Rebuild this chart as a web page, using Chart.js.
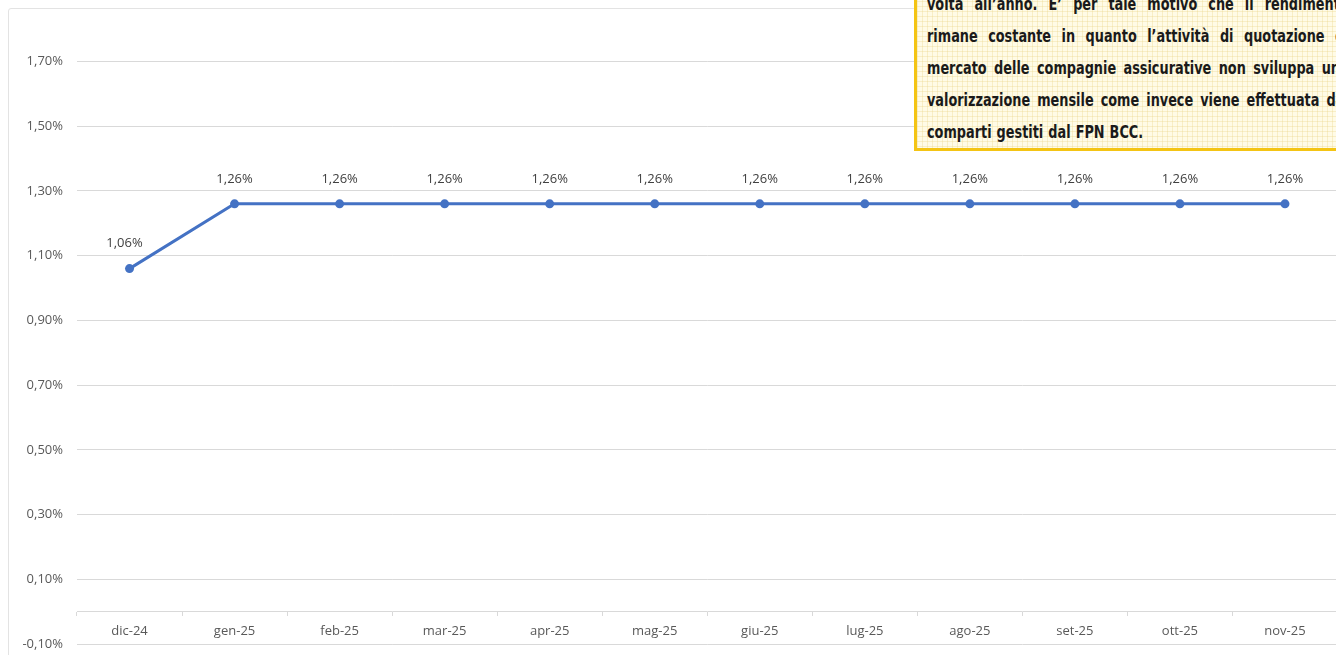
<!DOCTYPE html>
<html lang="it">
<head>
    <meta charset="UTF-8">
    <title>Rendimento mensile</title>
    <style>
        html, body {
            margin: 0;
            padding: 0;
            background: #ffffff;
            overflow: hidden;
            width: 1336px;
            height: 655px;
        }

        /* cornice esterna del grafico */
        .frame {
            position: absolute;
            left: 8px;
            top: 8px;
            width: 1400px;
            height: 700px;
            border: 1px solid #e3e3e3;
            border-radius: 3px;
        }

        /* il grafico è più grande della finestra: la parte in basso e a destra viene tagliata */
        .chart-box {
            position: absolute;
            left: 0;
            top: 0;
            width: 1342px;
            height: 666px;
        }

        /* riquadro giallo con la nota */
        .note {
            position: absolute;
            left: 914px;
            top: -22px;
            width: 450px;
            padding: 7px 0 0 10px;
            border: 3px solid #f4c414;
            background-color: #fffbe6;
            background-image:
                linear-gradient(to right, rgba(235, 215, 140, 0.35) 1px, transparent 1px),
                linear-gradient(to bottom, rgba(235, 215, 140, 0.35) 1px, transparent 1px);
            background-size: 5px 5px;
            font-family: "Liberation Sans Narrow", "DejaVu Sans Condensed", "Roboto", sans-serif;
            font-stretch: condensed;
            font-weight: bold;
            font-size: 17px;
            color: #1a1a1a;
        }

        .note .righe {
            transform: scaleX(0.84);
            transform-origin: left top;
        }

        .note .row {
            display: flex;
            justify-content: space-between;
            width: 502px;
            height: 32px;
            line-height: 32px;
            white-space: nowrap;
        }

        .note .row.last {
            justify-content: flex-start;
            gap: 6px;
        }
    </style>
</head>
<body>

<div class="frame"></div>

<div class="chart-box">
    <canvas id="rendChart"></canvas>
</div>

<div class="note">
    <div class="righe">
        <div class="row"><span>volta</span><span>all’anno.</span><span>E’</span><span>per</span><span>tale</span><span>motivo</span><span>che</span><span>il</span><span>rendimento</span></div>
        <div class="row"><span>rimane</span><span>costante</span><span>in</span><span>quanto</span><span>l’attività</span><span>di</span><span>quotazione</span><span>di</span></div>
        <div class="row"><span>mercato</span><span>delle</span><span>compagnie</span><span>assicurative</span><span>non</span><span>sviluppa</span><span>una</span></div>
        <div class="row"><span>valorizzazione</span><span>mensile</span><span>come</span><span>invece</span><span>viene</span><span>effettuata</span><span>dai</span></div>
        <div class="row last"><span>comparti</span><span>gestiti</span><span>dal</span><span>FPN</span><span>BCC.</span></div>
    </div>
</div>

<script src="https://cdn.jsdelivr.net/npm/chart.js"></script>

<script>
    // Dati
    const mesi = ['dic-24', 'gen-25', 'feb-25', 'mar-25', 'apr-25', 'mag-25', 'giu-25', 'lug-25', 'ago-25', 'set-25', 'ott-25', 'nov-25'];
    const rendimento = [1.06, 1.26, 1.26, 1.26, 1.26, 1.26, 1.26, 1.26, 1.26, 1.26, 1.26, 1.26];
    const tickY = [-0.10, 0.10, 0.30, 0.50, 0.70, 0.90, 1.10, 1.30, 1.50, 1.70];

    const grigio = '#d9d9d9';
    const testo = '#595959';
    const blu = '#4472c4';

    // formato italiano: 1,26%
    function perc(v) {
        return v.toFixed(2).replace('.', ',') + '%';
    }

    // etichette sopra i punti
    const etichette = {
        id: 'etichette',
        afterDatasetsDraw(chart) {
            const ctx = chart.ctx;
            const meta = chart.getDatasetMeta(0);
            ctx.save();
            ctx.font = '13px "Open Sans", sans-serif';
            ctx.fillStyle = '#404040';
            ctx.textAlign = 'center';
            ctx.textBaseline = 'middle';
            meta.data.forEach((pt, i) => {
                const dx = i === 0 ? -5 : 0;
                ctx.fillText(perc(rendimento[i]), pt.x + dx, pt.y - 25);
            });
            ctx.restore();
        }
    };

    const ctx = document.getElementById('rendChart').getContext('2d');
    const rendChart = new Chart(ctx, {
        type: 'line',
        data: {
            labels: mesi,
            datasets: [{
                data: rendimento,
                borderColor: blu,
                backgroundColor: blu,
                borderWidth: 3,
                pointRadius: 4.5,
                pointBorderWidth: 0,
                pointBackgroundColor: blu,
                tension: 0
            }]
        },
        options: {
            responsive: true,
            maintainAspectRatio: false,
            animation: false,
            layout: {
                padding: { top: 29, bottom: 1, left: 0, right: 0 }
            },
            plugins: {
                legend: { display: false },
                tooltip: { enabled: false }
            },
            scales: {
                x: {
                    position: { y: 0 },
                    offset: true,
                    afterFit: s => { s.height = 0; },
                    border: { display: true, color: grigio, width: 1 },
                    grid: {
                        offset: true,
                        drawOnChartArea: false,
                        drawTicks: true,
                        tickLength: 4,
                        color: grigio
                    },
                    ticks: {
                        color: testo,
                        font: { family: '"Open Sans", sans-serif', size: 13 },
                        padding: 8,
                        maxRotation: 0
                    }
                },
                y: {
                    min: -0.10,
                    max: 1.80,
                    afterFit: s => { s.width = 77; },
                    afterBuildTicks: s => { s.ticks = tickY.map(v => ({ value: v })); },
                    border: { display: false },
                    grid: {
                        color: grigio,
                        drawTicks: false
                    },
                    ticks: {
                        color: testo,
                        font: { family: '"Open Sans", sans-serif', size: 13 },
                        padding: 14,
                        callback: v => perc(v)
                    }
                }
            }
        },
        plugins: [etichette]
    });
</script>

</body>
</html>
